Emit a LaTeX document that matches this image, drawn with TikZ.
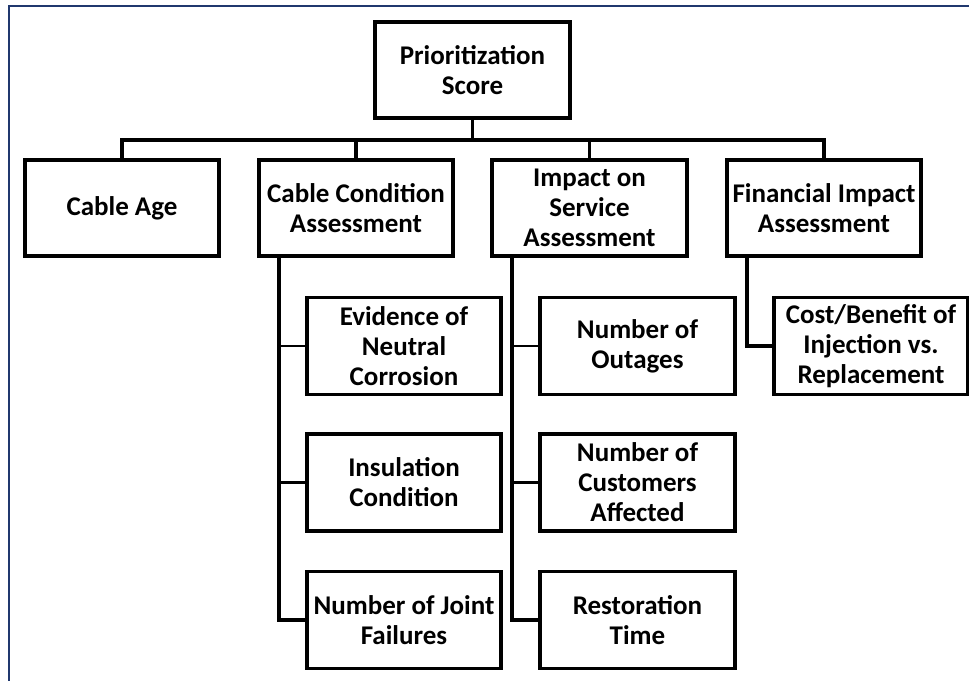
\documentclass[tikz,border=0pt]{standalone}
\usepackage{fontspec}
\setmainfont{Carlito}
\definecolor{framenavy}{RGB}{32,56,110}
\begin{document}
\begin{tikzpicture}[x=1pt,y=-1pt,
  box/.style={draw=black,line width=3.6pt,fill=white,inner sep=0pt,
    minimum width=194pt,minimum height=96pt,align=center,
    font=\bfseries\fontsize{27}{30}\selectfont},
  subbox/.style={box,minimum height=97pt},
  conn/.style={draw=black,line width=3.3pt},
  tick/.style={draw=black,line width=2.6pt}]
\useasboundingbox (0,0) rectangle (969,680);
\clip (0,0) rectangle (969,680);
\fill[white] (0,0) rectangle (969,680);
\draw[framenavy,line width=2.5pt] (9,700) -- (9,6) -- (990,6);

\coordinate (bus) at (0,140);
\coordinate (cx) at (279,0);
\coordinate (ix) at (512,0);
\coordinate (fx) at (747,0);

\node[box,minimum width=195pt] (prio) at (472.5,70) {Prioritization\\Score};
\node[box] (age) at (122,208) {Cable Age};
\node[box] (cond) at (356,208) {Cable Condition\\Assessment};
\node[box,minimum width=195pt] (imp) at (589.5,208) {Impact on\\Service\\Assessment};
\node[box] (fin) at (824,208) {Financial Impact\\Assessment};

\node[subbox] (evid) at (404,346) {Evidence of\\Neutral\\Corrosion};
\node[subbox] (insul) at (404,482.5) {Insulation\\Condition};
\node[subbox] (joint) at (404,620) {Number of Joint\\Failures};

\node[subbox,minimum width=195pt] (outg) at (637.5,346) {Number of\\Outages};
\node[subbox,minimum width=195pt] (cust) at (637.5,482.5) {Number of\\Customers\\Affected};
\node[subbox,minimum width=195pt] (rest) at (637.5,620) {Restoration\\Time};

\node[subbox] (cost) at (871,346) {Cost/Benefit of\\Injection vs.\\Replacement};

% top-level tree
\draw[conn] (prio.south) -- (prio.south |- bus);
\draw[conn] (age.north) -- (age.north |- bus) -- (fin.north |- bus) -- (fin.north);
\draw[conn] (cond.north) -- (cond.north |- bus);
\draw[conn] (imp.north) -- (imp.north |- bus);

% cable condition branch
\draw[conn] (cx |- cond.south) |- (joint.west);
\draw[tick] (cx |- evid.west) -- (evid.west);
\draw[tick] (cx |- insul.west) -- (insul.west);

% impact branch
\draw[conn] (ix |- imp.south) |- (rest.west);
\draw[tick] (ix |- outg.west) -- (outg.west);
\draw[tick] (ix |- cust.west) -- (cust.west);

% financial branch
\draw[conn] (fx |- fin.south) |- (cost.west);
\end{tikzpicture}
\end{document}
